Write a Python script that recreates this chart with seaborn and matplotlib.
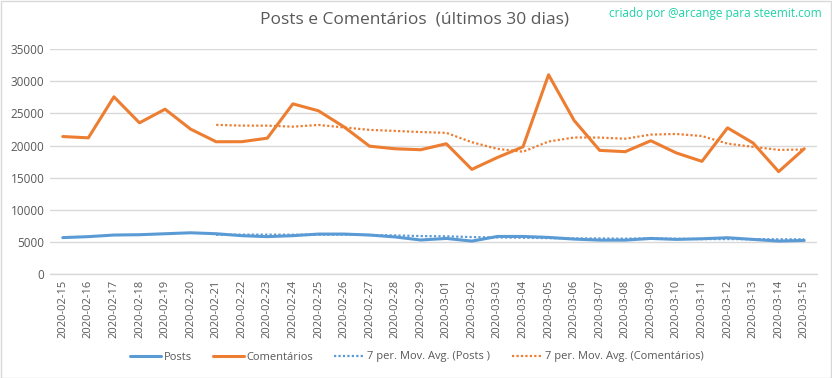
import numpy as np
import pandas as pd
import matplotlib
matplotlib.use("Agg")
import matplotlib.pyplot as plt
import seaborn as sns
from matplotlib.patches import Rectangle

dates = ["2020-02-15", "2020-02-16", "2020-02-17", "2020-02-18", "2020-02-19", "2020-02-20",
         "2020-02-21", "2020-02-22", "2020-02-23", "2020-02-24", "2020-02-25", "2020-02-26",
         "2020-02-27", "2020-02-28", "2020-02-29", "2020-03-01", "2020-03-02", "2020-03-03",
         "2020-03-04", "2020-03-05", "2020-03-06", "2020-03-07", "2020-03-08", "2020-03-09",
         "2020-03-10", "2020-03-11", "2020-03-12", "2020-03-13", "2020-03-14", "2020-03-15"]
posts = [5700, 5850, 6100, 6150, 6300, 6450, 6300, 6000, 5850, 6000, 6250, 6250, 6100, 5800, 5330,
         5570, 5160, 5880, 5880, 5730, 5470, 5310, 5310, 5570, 5420, 5520, 5680, 5420, 5160, 5260]
comentarios = [21400, 21200, 27570, 23530, 25650, 22550, 20590, 20600, 21150, 26480, 25400, 22900,
               19900, 19500, 19350, 20280, 16300, 18150, 19800, 31000, 23900, 19250, 19050, 20750,
               18850, 17550, 22750, 20400, 15950, 19500]
yticks = [0, 5000, 10000, 15000, 20000, 25000, 30000, 35000]

df = pd.DataFrame({"idx": np.arange(len(dates)), "date": dates,
                   "Posts": posts, "Comentários": comentarios})
df["ma_posts"] = df["Posts"].rolling(7).mean()
df["ma_com"] = df["Comentários"].rolling(7).mean()

sns.set_theme(style="white")
plt.rcParams["font.family"] = ["Open Sans", "DejaVu Sans"]

blue = "#5B9BD5"
orange = "#ED7D31"
txt = "#595959"

fig = plt.figure(figsize=(8.32, 3.78), dpi=100)
ax = fig.add_axes([50/832, 1-274.3/378, 767/832, (274.3-49)/378])

sns.lineplot(data=df, x="idx", y="Posts", ax=ax, color=blue, lw=2.2, label="Posts")
sns.lineplot(data=df, x="idx", y="Comentários", ax=ax, color=orange, lw=2.2, label="Comentários")
sns.lineplot(data=df, x="idx", y="ma_posts", ax=ax, color=blue, lw=1.6,
             linestyle=(0, (1, 1)), label="7 per. Mov. Avg. (Posts )")
sns.lineplot(data=df, x="idx", y="ma_com", ax=ax, color=orange, lw=1.6,
             linestyle=(0, (1, 1)), label="7 per. Mov. Avg. (Comentários)")

ax.set_xlim(-0.5, len(dates) - 0.5)
ax.set_ylim(0, 35000)
ax.set_yticks(yticks)
ax.set_yticklabels([str(v) for v in yticks], fontsize=8.5, color=txt)
ax.set_xticks(df["idx"])
ax.set_xticklabels(dates, rotation=90, fontsize=8, color=txt)
ax.tick_params(axis="both", length=0, pad=4)
ax.set_xlabel("")
ax.set_ylabel("")
ax.grid(axis="y", color="#D9D9D9", lw=1)
ax.set_axisbelow(True)
for s in ["top", "right", "left"]:
    ax.spines[s].set_visible(False)
ax.spines["bottom"].set_color("#D9D9D9")
ax.spines["bottom"].set_linewidth(1)

leg = ax.legend(loc="center", bbox_to_anchor=(417/832, 1-357/378), bbox_transform=fig.transFigure,
                ncol=4, frameon=False, fontsize=8, handlelength=2.8, columnspacing=1.9,
                handletextpad=0.2)
for t in leg.get_texts():
    t.set_color(txt)

fig.text(415/832, 1-20/378, "Posts e Comentários  (últimos 30 dias)", ha="center", va="center",
         fontsize=12.5, color=txt)
fig.text(822/832, 1-14/378, "criado por @arcange para steemit.com", ha="right", va="center",
         fontsize=8.5, color="#1DD3A7")

fig.patches.append(Rectangle((0.5/832, 0.5/378), 1 - 1.5/832, 1 - 1.5/378, transform=fig.transFigure,
                             fill=False, edgecolor="#D9D9D9", lw=1))

fig.savefig("out.png", dpi=100, facecolor="white")
